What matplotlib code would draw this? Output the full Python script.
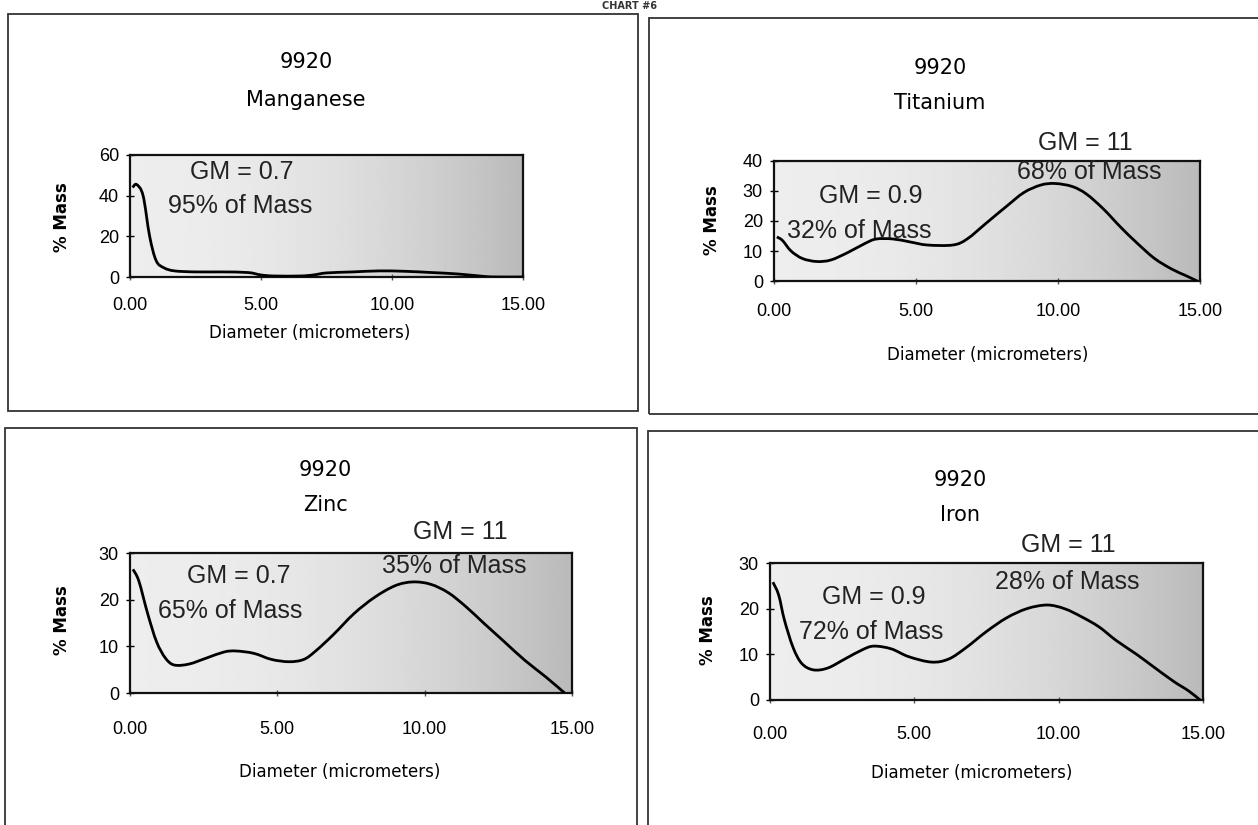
import numpy as np
import matplotlib
matplotlib.use("Agg")
import matplotlib.pyplot as plt
from matplotlib.patches import Rectangle, PathPatch
from matplotlib.path import Path

W, H = 1258, 825

# ---------------- data ----------------
mn_x = [0.1, 0.25, 0.5, 0.75, 1.0, 1.3, 1.7, 2.5, 3.5, 4.5, 5.0, 5.5, 6.5, 7.0, 7.5, 8.5, 9.5, 10.5, 11.5, 12.5, 13.5, 14.0, 15.0]
mn_y = [44, 45.5, 40, 20, 8, 4.5, 3, 2.5, 2.5, 2.2, 1, 0.5, 0.5, 1, 2, 2.5, 3, 2.8, 2.2, 1.5, 0.3, 0, 0]

ti_x = [0.1, 0.3, 0.6, 1.0, 1.5, 2.0, 2.6, 3.2, 3.6, 4.2, 4.8, 5.4, 6.3, 6.8, 7.5, 8.2, 8.8, 9.4, 9.9, 10.5, 11.0, 11.6, 12.2, 12.8, 13.4, 14.0, 14.5, 14.9]
ti_y = [14.7, 13.5, 10, 7.5, 6.5, 7, 9.5, 12.5, 14, 14, 13, 12, 12, 14, 19.5, 25, 29.5, 32, 32.5, 31.5, 29, 24, 18, 12.5, 7.5, 4, 1.8, 0]

zn_x = [0.1, 0.3, 0.6, 0.9, 1.2, 1.5, 2.0, 2.6, 3.2, 3.6, 4.2, 4.8, 5.4, 5.9, 6.3, 6.9, 7.6, 8.3, 9.0, 9.6, 10.2, 10.8, 11.4, 12.0, 12.7, 13.4, 14.1, 14.75]
zn_y = [26.5, 24, 17, 11, 7.5, 6, 6.2, 7.5, 8.8, 9, 8.5, 7.2, 6.7, 7.2, 9, 12.5, 17, 20.5, 23, 23.8, 23.3, 21.5, 18.5, 15, 11, 7, 3.5, 0]

fe_x = [0.1, 0.3, 0.5, 0.8, 1.1, 1.5, 2.0, 2.6, 3.2, 3.6, 4.2, 4.8, 5.6, 6.2, 6.8, 7.5, 8.2, 8.9, 9.6, 10.2, 10.8, 11.4, 12.0, 12.7, 13.3, 14.0, 14.5, 14.9]
fe_y = [25.8, 23, 17.5, 11.5, 8, 6.6, 7, 9, 11, 11.8, 11.2, 9.5, 8.3, 9, 11.5, 15, 18, 20, 20.8, 20, 18.2, 16, 13, 10, 7.2, 4, 2, 0]

x_ticks = [0, 5, 10, 15]
mn_yticks = [0, 20, 40, 60]
ti_yticks = [0, 10, 20, 30, 40]
zn_yticks = [0, 10, 20, 30]
fe_yticks = [0, 10, 20, 30]

sample = "9920"
elements = ["Manganese", "Titanium", "Zinc", "Iron"]
header = "CHART #6"

# ---------------- layout helpers ----------------
fig = plt.figure(figsize=(W / 100, H / 100), dpi=100)
fig.patch.set_facecolor("white")

def fx(px):
    return px / W

def fy(py):
    return 1 - py / H

def add_ax(left, right, top, bottom):
    return fig.add_axes([fx(left), fy(bottom), (right - left) / W, (bottom - top) / H])

def smooth_path(xs, ys, tension=1 / 6):
    """Excel-style smoothed line: cubic Bezier segments through the data points."""
    pts = np.column_stack([xs, ys]).astype(float)
    n = len(pts)
    verts = [pts[0]]
    codes = [Path.MOVETO]
    for i in range(n - 1):
        p0 = pts[i - 1] if i > 0 else pts[i]
        p1 = pts[i]
        p2 = pts[i + 1]
        p3 = pts[i + 2] if i + 2 < n else pts[i + 1]
        c1 = p1 + (p2 - p0) * tension
        c2 = p2 - (p3 - p1) * tension
        verts += [c1, c2, p2]
        codes += [Path.CURVE4] * 3
    return Path(verts, codes)

TICKF = "Liberation Sans"
ANNF = "Liberation Sans"
LABF = "DejaVu Sans"

# panel borders
for (l, t, r, b) in [(8, 14, 638, 411), (649, 18, 1262, 414), (5, 428, 637, 830), (648, 431, 1262, 830)]:
    fig.patches.append(Rectangle((fx(l), fy(b)), (r - l) / W, (b - t) / H,
                                 transform=fig.transFigure, fill=False,
                                 edgecolor="#333333", linewidth=1.3))

fig.text(0.5, fy(1), header, ha="center", va="top", fontsize=7,
         fontweight="bold", family="DejaVu Sans", color="#333333")

panels = [
    dict(box=(130, 523, 155, 277), x=mn_x, y=mn_y, yt=mn_yticks, name=elements[0],
         title=(306, 62, 100), ylab=(62, 217), xlab=(310, 333), xpad=12,
         ann=[(4.27, 51.7, "GM = 0.7"), (4.2, 35, "95% of Mass")]),
    dict(box=(774, 1200, 161, 281), x=ti_x, y=ti_y, yt=ti_yticks, name=elements[1],
         title=(940, 68, 103), ylab=(712, 220), xlab=(988, 355), xpad=13,
         ann=[(10.95, 46, "GM = 11"), (11.1, 36.3, "68% of Mass"),
              (3.4, 28.3, "GM = 0.9"), (3.0, 16.5, "32% of Mass")]),
    dict(box=(130, 572, 553, 693), x=zn_x, y=zn_y, yt=zn_yticks, name=elements[2],
         title=(325, 470, 505), ylab=(62, 620), xlab=(340, 772), xpad=18,
         ann=[(11.2, 34.5, "GM = 11"), (11.0, 27.2, "35% of Mass"),
              (3.7, 25.0, "GM = 0.7"), (3.4, 17.6, "65% of Mass")]),
    dict(box=(770, 1203, 563, 700), x=fe_x, y=fe_y, yt=fe_yticks, name=elements[3],
         title=(960, 480, 515), ylab=(708, 630), xlab=(972, 773), xpad=16,
         ann=[(10.35, 34.0, "GM = 11"), (10.3, 25.8, "28% of Mass"),
              (3.6, 22.5, "GM = 0.9"), (3.5, 14.9, "72% of Mass")]),
]

for p in panels:
    l, r, t, b = p["box"]
    ax = add_ax(l, r, t, b)
    ymax = p["yt"][-1]
    ax.set_xlim(0, 15)
    ax.set_ylim(0, ymax)
    # shaded background, darkening to the right
    g = np.linspace(0, 1, 200)
    shade = 0.93 - 0.2 * g ** 2.0
    ax.imshow(shade[np.newaxis, :], extent=[0, 15, 0, ymax], aspect="auto",
              cmap="gray", vmin=0, vmax=1, zorder=0, interpolation="bilinear")
    ax.add_patch(PathPatch(smooth_path(p["x"], p["y"]), facecolor="none",
                           edgecolor="black", lw=2.0, joinstyle="round",
                           zorder=3, clip_on=True))
    ax.set_xticks(x_ticks)
    ax.set_xticklabels([f"{v:.2f}" for v in x_ticks], family=TICKF, fontsize=13)
    ax.set_yticks(p["yt"])
    ax.set_yticklabels([str(v) for v in p["yt"]], family=TICKF, fontsize=13)
    ax.tick_params(axis="x", direction="inout", length=5, width=1, pad=p["xpad"], color="#555555")
    ax.tick_params(axis="y", direction="inout", length=6, width=1, pad=5)
    for s in ax.spines.values():
        s.set_linewidth(1.6)
        s.set_color("#111111")
    for (ax_x, ax_y, txt) in p["ann"]:
        ax.text(ax_x, ax_y, txt, ha="center", va="center", fontsize=18,
                family=ANNF, color="#222222", zorder=4, clip_on=False)
    tx, ty1, ty2 = p["title"]
    fig.text(fx(tx), fy(ty1), sample, ha="center", va="center", fontsize=15, family=LABF)
    fig.text(fx(tx), fy(ty2), p["name"], ha="center", va="center", fontsize=15, family=LABF)
    yx, yy = p["ylab"]
    fig.text(fx(yx), fy(yy), "% Mass", rotation=90, ha="center", va="center",
             fontsize=12, fontweight="bold", family=LABF)
    lx, ly = p["xlab"]
    fig.text(fx(lx), fy(ly), "Diameter (micrometers)", ha="center", va="center",
             fontsize=12, family=LABF)

fig.savefig("out.png", dpi=100)
